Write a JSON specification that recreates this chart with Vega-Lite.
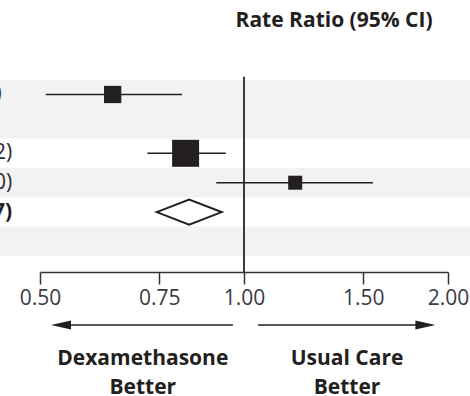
{
  "$schema": "https://vega.github.io/schema/vega-lite/v6.json",
  "autosize": "none",
  "width": 470,
  "height": 272,
  "padding": {"left": 0, "top": 0, "right": 0, "bottom": 124},
  "background": "white",
  "config": {"view": {"stroke": null}, "font": "Open Sans", "text": {"font": "Open Sans"}},
  "datasets": {
    "rows": [
      {"group": "Invasive mechanical ventilation", "row": 1, "rr": 0.64, "lo": 0.51, "hi": 0.81, "deaths": 378, "usual": "283/683 (41.4)"},
      {"group": "Oxygen only", "row": 3, "rr": 0.82, "lo": 0.72, "hi": 0.94, "deaths": 980, "usual": "682/2604 (26.2)"},
      {"group": "No oxygen received", "row": 4, "rr": 1.19, "lo": 0.91, "hi": 1.55, "deaths": 234, "usual": "145/1034 (14.0)"}
    ],
    "overall": [
      {"group": "All patients", "row": 5, "rr": 0.83, "lo": 0.75, "hi": 0.93, "usual": "1110/4321 (25.7)"}
    ],
    "bands": [
      {"from": 0.5, "to": 2.5},
      {"from": 3.5, "to": 4.5},
      {"from": 5.5, "to": 6.5}
    ],
    "one": [{"k": 1}]
  },
  "layer": [
    {
      "data": {"name": "bands"},
      "mark": {"type": "rect", "color": "#f2f2f2"},
      "encoding": {
        "y": {"field": "from", "type": "quantitative", "scale": {"domain": [-2.214, 7.037], "reverse": true, "nice": false, "zero": false}, "axis": null},
        "y2": {"field": "to"}
      }
    },
    {
      "data": {"name": "one"},
      "mark": {"type": "rule", "color": "#3a3a3a", "strokeWidth": 2},
      "encoding": {
        "x": {"datum": 1, "type": "quantitative", "scale": {"type": "log", "domain": [0.5, 2], "range": [40, 448], "nice": false},
          "axis": {"values": [0.5, 0.75, 1, 1.5, 2], "format": ".2f", "title": null, "grid": false, "domainColor": "#333333", "domainWidth": 1.5, "tickColor": "#333333", "tickWidth": 1.5, "tickSize": 12, "labelFontSize": 21, "labelColor": "#3a3a44", "labelPadding": 3, "labelFont": "Open Sans", "labelFlush": false, "labelOverlap": false}},
        "y": {"datum": 0.4, "type": "quantitative", "scale": {"domain": [-2.214, 7.037], "reverse": true, "nice": false, "zero": false}, "axis": null},
        "y2": {"datum": 7.04}
      }
    },
    {
      "data": {"name": "rows"},
      "mark": {"type": "rule", "color": "#231f20", "strokeWidth": 1.6},
      "encoding": {
        "x": {"field": "lo", "type": "quantitative", "scale": {"type": "log", "domain": [0.5, 2], "range": [40, 448], "nice": false}},
        "x2": {"field": "hi"},
        "y": {"field": "row", "type": "quantitative", "scale": {"domain": [-2.214, 7.037], "reverse": true, "nice": false, "zero": false}}
      }
    },
    {
      "data": {"name": "rows"},
      "mark": {"type": "point", "shape": "square", "filled": true, "color": "#231f20", "opacity": 1},
      "encoding": {
        "x": {"field": "rr", "type": "quantitative", "scale": {"type": "log", "domain": [0.5, 2], "range": [40, 448], "nice": false}},
        "y": {"field": "row", "type": "quantitative", "scale": {"domain": [-2.214, 7.037], "reverse": true, "nice": false, "zero": false}},
        "size": {"field": "deaths", "type": "quantitative", "scale": {"domain": [234, 980], "range": [196, 729], "zero": false, "nice": false}, "legend": null}
      }
    },
    {
      "data": {"name": "overall"},
      "mark": {"type": "point", "shape": "M-1,0L0,-0.385L1,0L0,0.385Z", "filled": true, "fill": "white", "stroke": "#231f20", "strokeWidth": 2, "size": 4225, "opacity": 1},
      "encoding": {
        "x": {"field": "rr", "type": "quantitative", "scale": {"type": "log", "domain": [0.5, 2], "range": [40, 448], "nice": false}},
        "y": {"field": "row", "type": "quantitative", "scale": {"domain": [-2.214, 7.037], "reverse": true, "nice": false, "zero": false}}
      }
    },
    {
      "data": {"name": "rows"},
      "transform": [{"filter": "datum.row > 1"}],
      "mark": {"type": "text", "align": "right", "baseline": "middle", "fontSize": 21, "color": "#2a2a33"},
      "encoding": {
        "x": {"datum": 0.455, "type": "quantitative", "scale": {"type": "log", "domain": [0.5, 2], "range": [40, 448], "nice": false}},
        "y": {"field": "row", "type": "quantitative", "scale": {"domain": [-2.214, 7.037], "reverse": true, "nice": false, "zero": false}},
        "text": {"field": "usual"}
      }
    },
    {
      "data": {"name": "rows"},
      "transform": [{"filter": "datum.row == 1"}],
      "mark": {"type": "text", "align": "right", "baseline": "middle", "fontSize": 21, "color": "#2a2a33"},
      "encoding": {
        "x": {"datum": 0.439, "type": "quantitative", "scale": {"type": "log", "domain": [0.5, 2], "range": [40, 448], "nice": false}},
        "y": {"field": "row", "type": "quantitative", "scale": {"domain": [-2.214, 7.037], "reverse": true, "nice": false, "zero": false}},
        "text": {"field": "usual"}
      }
    },
    {
      "data": {"name": "overall"},
      "mark": {"type": "text", "align": "right", "baseline": "middle", "fontSize": 21, "fontWeight": "bold", "color": "#231f20"},
      "encoding": {
        "x": {"datum": 0.455, "type": "quantitative", "scale": {"type": "log", "domain": [0.5, 2], "range": [40, 448], "nice": false}},
        "y": {"field": "row", "type": "quantitative", "scale": {"domain": [-2.214, 7.037], "reverse": true, "nice": false, "zero": false}},
        "text": {"field": "usual"}
      }
    },
    {
      "data": {"name": "one"},
      "mark": {"type": "text", "align": "center", "baseline": "middle", "fontSize": 21, "fontWeight": "bold", "color": "#231f20", "text": "Rate Ratio (95% CI)"},
      "encoding": {
        "x": {"datum": 1.358, "type": "quantitative", "scale": {"type": "log", "domain": [0.5, 2], "range": [40, 448], "nice": false}},
        "y": {"datum": -1.483, "type": "quantitative", "scale": {"domain": [-2.214, 7.037], "reverse": true, "nice": false, "zero": false}}
      }
    },
    {
      "data": {"name": "one"},
      "mark": {"type": "rule", "color": "#231f20", "strokeWidth": 1.6},
      "encoding": {
        "x": {"datum": 0.963, "type": "quantitative", "scale": {"type": "log", "domain": [0.5, 2], "range": [40, 448], "nice": false}},
        "x2": {"datum": 0.55},
        "y": {"datum": 8.84, "type": "quantitative", "scale": {"domain": [-2.214, 7.037], "reverse": true, "nice": false, "zero": false}}
      }
    },
    {
      "data": {"name": "one"},
      "mark": {"type": "rule", "color": "#231f20", "strokeWidth": 1.6},
      "encoding": {
        "x": {"datum": 1.049, "type": "quantitative", "scale": {"type": "log", "domain": [0.5, 2], "range": [40, 448], "nice": false}},
        "x2": {"datum": 1.84},
        "y": {"datum": 8.84, "type": "quantitative", "scale": {"domain": [-2.214, 7.037], "reverse": true, "nice": false, "zero": false}}
      }
    },
    {
      "data": {"name": "one"},
      "mark": {"type": "point", "shape": "M-1,0L1,-0.45L1,0.45Z", "filled": true, "color": "#231f20", "size": 400, "opacity": 1},
      "encoding": {
        "x": {"datum": 0.537, "type": "quantitative", "scale": {"type": "log", "domain": [0.5, 2], "range": [40, 448], "nice": false}},
        "y": {"datum": 8.84, "type": "quantitative", "scale": {"domain": [-2.214, 7.037], "reverse": true, "nice": false, "zero": false}}
      }
    },
    {
      "data": {"name": "one"},
      "mark": {"type": "point", "shape": "M1,0L-1,-0.45L-1,0.45Z", "filled": true, "color": "#231f20", "size": 400, "opacity": 1},
      "encoding": {
        "x": {"datum": 1.852, "type": "quantitative", "scale": {"type": "log", "domain": [0.5, 2], "range": [40, 448], "nice": false}},
        "y": {"datum": 8.84, "type": "quantitative", "scale": {"domain": [-2.214, 7.037], "reverse": true, "nice": false, "zero": false}}
      }
    },
    {
      "data": {"name": "one"},
      "mark": {"type": "text", "align": "center", "baseline": "middle", "fontSize": 21, "fontWeight": "bold", "color": "#231f20", "lineHeight": 29, "lineBreak": "\n", "text": "Dexamethasone\nBetter"},
      "encoding": {
        "x": {"datum": 0.709, "type": "quantitative", "scale": {"type": "log", "domain": [0.5, 2], "range": [40, 448], "nice": false}},
        "y": {"datum": 10.0, "type": "quantitative", "scale": {"domain": [-2.214, 7.037], "reverse": true, "nice": false, "zero": false}}
      }
    },
    {
      "data": {"name": "one"},
      "mark": {"type": "text", "align": "center", "baseline": "middle", "fontSize": 21, "fontWeight": "bold", "color": "#231f20", "lineHeight": 29, "lineBreak": "\n", "text": "Usual Care\nBetter"},
      "encoding": {
        "x": {"datum": 1.419, "type": "quantitative", "scale": {"type": "log", "domain": [0.5, 2], "range": [40, 448], "nice": false}},
        "y": {"datum": 10.0, "type": "quantitative", "scale": {"domain": [-2.214, 7.037], "reverse": true, "nice": false, "zero": false}}
      }
    }
  ]
}
